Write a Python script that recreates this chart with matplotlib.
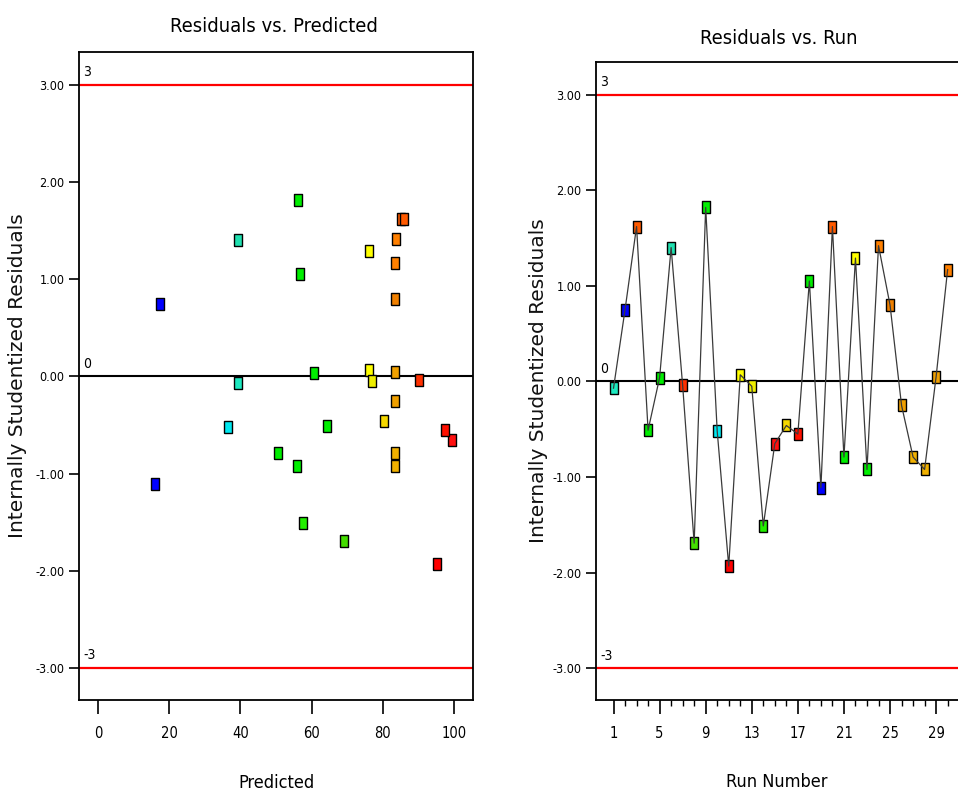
import numpy as np
import matplotlib.pyplot as plt
from matplotlib.ticker import FixedLocator, FormatStrFormatter

# data, one entry per run
runs = list(range(1, 31))
residuals = [-0.07, 0.75, 1.62, -0.51, 0.04, 1.40, -0.04, -1.69, 1.82, -0.52,
             -1.93, 0.07, -0.05, -1.51, -0.65, -0.46, -0.55, 1.05, -1.11, 1.62,
             -0.79, 1.29, -0.92, 1.42, 0.80, -0.25, -0.79, -0.92, 0.05, 1.17]
predicted = [39.3, 17.4, 85.2, 64.2, 60.6, 39.3, 90.2, 69.1, 56.1, 36.6,
             95.3, 76.0, 76.9, 57.7, 99.3, 80.2, 97.5, 56.8, 16.0, 86.0,
             50.6, 76.0, 55.8, 83.7, 83.3, 83.3, 83.3, 83.3, 83.3, 83.3]
colors = ['#1de9c0', '#0000ff', '#ff5a00', '#00ee00', '#00ee00', '#20e0b0',
          '#ff3000', '#44dd00', '#00ee00', '#00e8f0', '#ff0000', '#ffff00',
          '#eeee00', '#22ee00', '#ff1010', '#f5d800', '#ff1000', '#00ee00',
          '#0000ff', '#ff5a00', '#00ee00', '#ffff00', '#00ee00', '#ff8000',
          '#f08000', '#f0a000', '#f0b000', '#f0b000', '#f0a000', '#ff8000']
limits = [3, 0, -3]
limit_labels = ['3', '0', '-3']
y_ticks = [-3, -2, -1, 0, 1, 2, 3]
pred_ticks = [0, 20, 40, 60, 80, 100]
run_ticks = [1, 5, 9, 13, 17, 21, 25, 29]

plt.rcParams['font.family'] = 'DejaVu Sans'
plt.rcParams['font.stretch'] = 'condensed'
rect = [(-0.7, -1), (0.7, -1), (0.7, 1), (-0.7, 1), (-0.7, -1)]

fig = plt.figure(figsize=(9.58, 7.91), dpi=100)
ax1 = fig.add_axes([79 / 958, 91 / 791, 394 / 958, 648 / 791])
ax2 = fig.add_axes([596 / 958, 91 / 791, 362 / 958, 638 / 791])


def style(ax):
    for s in ax.spines.values():
        s.set_linewidth(1.3)
    ax.set_ylim(-3.33, 3.34)
    ax.yaxis.set_major_locator(FixedLocator(y_ticks))
    ax.yaxis.set_major_formatter(FormatStrFormatter('%.2f'))
    ax.tick_params(axis='y', length=7, width=1.2, pad=3.5, labelsize=9)
    ax.tick_params(axis='x', which='major', length=10, width=1.2, pad=9,
                   labelsize=10.5)
    ax.axhline(3, color='#ff0000', lw=1.6, zorder=1)
    ax.axhline(-3, color='#ff0000', lw=1.6, zorder=1)
    ax.axhline(0, color='black', lw=1.5, zorder=1)
    for v, t in zip(limits, limit_labels):
        ax.annotate(t, xy=(0, v), xycoords=('axes fraction', 'data'),
                    xytext=(3, 4), textcoords='offset points',
                    fontsize=10, va='bottom', ha='left')
    ax.set_ylabel('Internally Studentized Residuals', fontstretch='normal',
                  fontsize=14.5, va='center', color='#111111')


# left: residuals vs predicted
ax1.set_xlim(-5.3, 105.3)
ax1.xaxis.set_major_locator(FixedLocator(pred_ticks))
style(ax1)
for x, y, c in zip(predicted, residuals, colors):
    ax1.plot(x, y, marker=rect, ms=9, mfc=c, mec='black', mew=1.0,
             ls='none', zorder=3)
ax1.set_xlabel('Predicted', fontsize=13, va='center')
ax1.xaxis.set_label_coords(0.5, -0.128)
ax1.yaxis.set_label_coords(-0.157, 0.5)

# right: residuals vs run
ax2.set_xlim(-0.52, 30.9)
ax2.xaxis.set_major_locator(FixedLocator(run_ticks))
ax2.xaxis.set_minor_locator(FixedLocator(runs))
ax2.tick_params(axis='x', which='minor', length=4, width=1.0)
style(ax2)
ax2.spines['right'].set_visible(False)
for x, y, c in zip(runs, residuals, colors):
    ax2.plot(x, y, marker=rect, ms=9, mfc=c, mec='black', mew=1.0,
             ls='none', zorder=3)
ax2.plot(runs, residuals, color='#3a3a3a', lw=0.9, zorder=4)
ax2.set_xlabel('Run Number', fontsize=13, va='center')
ax2.xaxis.set_label_coords(0.5, -0.1285)
ax2.yaxis.set_label_coords(-0.160, 0.5)

fig.text(274 / 958, 1 - 27 / 791, 'Residuals vs. Predicted',
         fontsize=14.5, ha='center', va='center')
fig.text(779 / 958, 1 - 38 / 791, 'Residuals vs. Run',
         fontsize=14.5, ha='center', va='center')

fig.savefig('out.png', dpi=100)
